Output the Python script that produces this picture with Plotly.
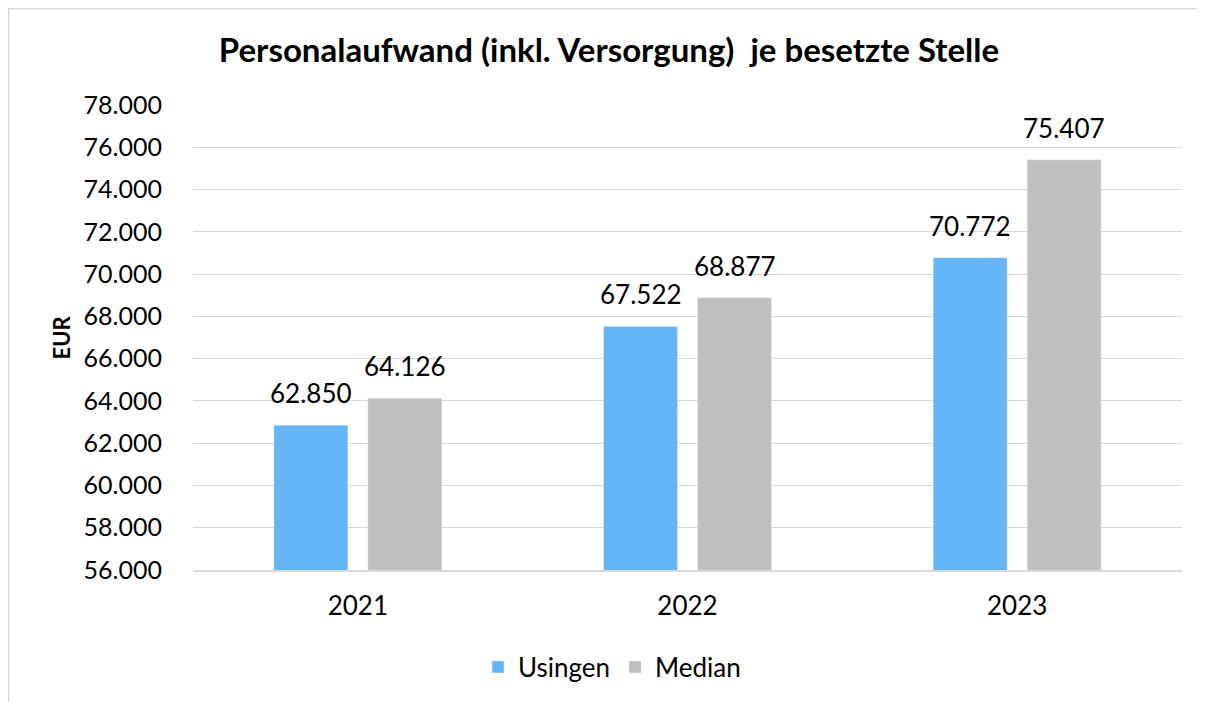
import plotly.graph_objects as go

years = ["2021", "2022", "2023"]
usingen = [62850, 67522, 70772]
median = [64126, 68877, 75407]
series_names = ["Usingen", "Median"]
y_ticks = list(range(56000, 78001, 2000))

OFF = 8  # page body margin in the browser
W, H = 1205, 702
L, R, T, B = 193 - OFF, 23 + OFF, 105 - OFF, 132 + OFF
pw, ph = W - L - R, H - T - B

def px_x(x):
    return (x - OFF - L) / pw

def px_y(y):
    return (H - B - (y - OFF)) / ph

def de(v):
    return f"{v:,}".replace(",", ".")

xpos = list(range(len(years)))
FONT = "Lato"
fig = go.Figure()
fig.add_trace(go.Bar(x=xpos, y=usingen, name=series_names[0], marker_color="#63B5F5"))
fig.add_trace(go.Bar(x=xpos, y=median, name=series_names[1], marker_color="#BFBFBF"))

annotations = []
for vals, shift in ((usingen, -47), (median, 47)):
    for xp, v in zip(xpos, vals):
        annotations.append(dict(x=xp, y=v, xref="x", yref="y", text=de(v), showarrow=False,
                                xshift=shift, yanchor="bottom", yshift=14,
                                font=dict(family=FONT, size=26, color="#000000")))
annotations.append(dict(x=px_x(61), y=0.5, xref="paper", yref="paper", text="<b>EUR</b>",
                        textangle=-90, showarrow=False, xanchor="center", yanchor="middle",
                        font=dict(family=FONT, size=22, color="#000000")))

border = "#D9D9D9"
fig.update_layout(
    width=W, height=H,
    margin=dict(l=L, r=R, t=T, b=B, autoexpand=False),
    paper_bgcolor="white", plot_bgcolor="white",
    barmode="group", bargap=0.43, bargroupgap=0.213,
    title=dict(text="<b>Personalaufwand (inkl. Versorgung)  je besetzte Stelle</b>",
               x=(609 - OFF) / W, xanchor="center", y=1 - (50 - OFF) / H, yanchor="middle",
               font=dict(family=FONT, size=33, color="#000000")),
    font=dict(family=FONT, size=26, color="#000000"),
    showlegend=True,
    legend=dict(orientation="h", x=px_x(612), xanchor="center", y=px_y(667), yanchor="middle",
                font=dict(family=FONT, size=26, color="#000000")),
    annotations=annotations,
    shapes=[
        dict(type="line", xref="paper", yref="paper", x0=px_x(8.75), x1=px_x(8.75),
             y0=px_y(8), y1=px_y(720), line=dict(color=border, width=1.5)),
        dict(type="line", xref="paper", yref="paper", x0=px_x(8), x1=px_x(1220),
             y0=px_y(8.75), y1=px_y(8.75), line=dict(color=border, width=1.5)),
    ],
)
fig.update_xaxes(range=[-0.5, len(years) - 0.5], tickvals=xpos, ticktext=years,
                 showgrid=False, zeroline=False, showline=True, linecolor=border,
                 linewidth=1.5, ticks="outside", ticklen=12, tickcolor="rgba(0,0,0,0)",
                 tickfont=dict(family=FONT, size=26, color="#000000"))
fig.update_yaxes(range=[56000, 78000], tickvals=y_ticks,
                 ticktext=[de(v) for v in y_ticks],
                 showgrid=True, gridcolor=border, gridwidth=1.2, zeroline=False,
                 showline=False, ticks="outside", ticklen=25, tickcolor="rgba(0,0,0,0)",
                 tickfont=dict(family=FONT, size=25, color="#000000"))

fig.write_html("out.html")
